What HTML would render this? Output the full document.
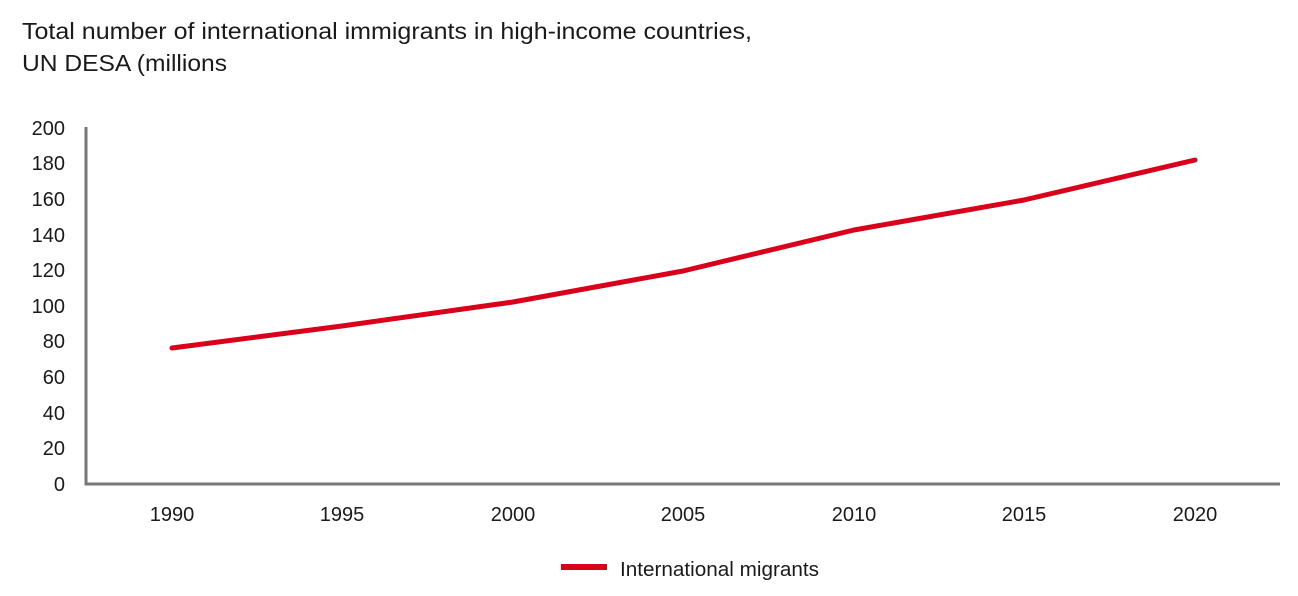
<!DOCTYPE html>
<html><head><meta charset="utf-8"><style>
body{margin:0;background:#fff;width:1298px;height:596px;overflow:hidden}
svg{display:block;font-family:"Liberation Sans",Arial,sans-serif}
</style></head><body>
<svg width="1298" height="596" viewBox="0 0 1298 596">
<text x="22" y="39" font-size="23" fill="#1a1a1a" textLength="730" lengthAdjust="spacingAndGlyphs">Total number of international immigrants in high-income countries,</text>
<text x="22" y="71" font-size="23" fill="#1a1a1a" textLength="205" lengthAdjust="spacingAndGlyphs">UN DESA (millions</text>
<g font-size="20" fill="#1a1a1a" text-anchor="end">
<text x="65" y="135">200</text><text x="65" y="170">180</text><text x="65" y="206">160</text>
<text x="65" y="242">140</text><text x="65" y="277">120</text><text x="65" y="313">100</text>
<text x="65" y="348">80</text><text x="65" y="384">60</text><text x="65" y="420">40</text>
<text x="65" y="455">20</text><text x="65" y="491">0</text>
</g>
<g font-size="20" fill="#1a1a1a" text-anchor="middle">
<text x="172" y="521">1990</text><text x="342" y="521">1995</text><text x="513" y="521">2000</text>
<text x="683" y="521">2005</text><text x="854" y="521">2010</text><text x="1024" y="521">2015</text>
<text x="1195" y="521">2020</text>
</g>
<path d="M86 127 V484 H1280" fill="none" stroke="#777" stroke-width="3"/>
<polyline points="172,348 342,326 513,302 683,271 854,230 1024,200 1195,160" fill="none" stroke="#d9001b" stroke-width="5" stroke-linecap="round" stroke-linejoin="round"/>
<line x1="561" y1="567" x2="607" y2="567" stroke="#d9001b" stroke-width="6"/>
<text x="620" y="576" font-size="20" fill="#1a1a1a" textLength="199" lengthAdjust="spacingAndGlyphs">International migrants</text>
</svg>
</body></html>
